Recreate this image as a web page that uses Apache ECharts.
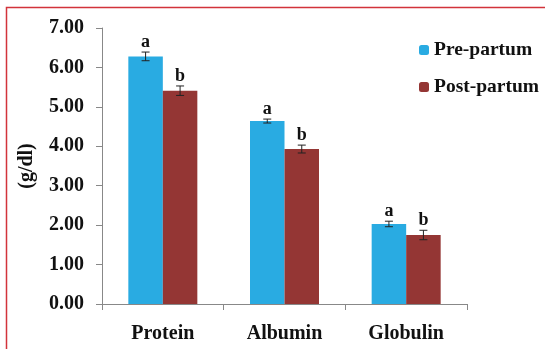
<!DOCTYPE html>
<html><head><meta charset="utf-8">
<script src="https://cdn.jsdelivr.net/npm/echarts@6/dist/echarts.min.js"></script>
<style>html,body{margin:0;padding:0;background:#fff}#c{width:545px;height:349px}</style>
</head><body><div id="c"></div>
<script>
const categories = ['Protein', 'Albumin', 'Globulin'];
const preValues = [6.28, 4.64, 2.03];
const postValues = [5.41, 3.93, 1.75];
const preErr = [0.11, 0.05, 0.07];
const postErr = [0.12, 0.10, 0.12];
const preLetters = ['a', 'a', 'a'];
const postLetters = ['b', 'b', 'b'];
const yTicks = [0, 1, 2, 3, 4, 5, 6, 7];

const FONT = 'Liberation Serif';
const BW = 34.5;
function errSeries(name, values, errs, letters, offset) {
  return {
    type: 'custom', name: name + '-err', silent: true, z: 5,
    data: values.map((v, i) => [i, v, errs[i], letters[i]]),
    renderItem: function (params, api) {
      const i = api.value(0), v = api.value(1), e = api.value(2);
      const c = api.coord([i, v]);
      const hi = api.coord([i, v + e]);
      const lo = api.coord([i, v - e]);
      const x = c[0] + offset;
      const st = { stroke: '#222', lineWidth: 1 };
      return {
        type: 'group', children: [
          { type: 'line', shape: { x1: x, y1: hi[1], x2: x, y2: lo[1] }, style: st },
          { type: 'line', shape: { x1: x - 4, y1: hi[1], x2: x + 4, y2: hi[1] }, style: st },
          { type: 'line', shape: { x1: x - 4, y1: lo[1], x2: x + 4, y2: lo[1] }, style: st },
          { type: 'text', x: x, y: hi[1] - 1, style: { text: letters[i], fill: '#111', font: 'bold 18px ' + FONT, textAlign: 'center', textVerticalAlign: 'bottom' } }
        ]
      };
    }
  };
}

const chart = echarts.init(document.getElementById('c'), null, { renderer: 'canvas' });
chart.setOption({
  animation: false,
  backgroundColor: '#fff',
  graphic: [{ type: 'rect', shape: { x: 6.5, y: 7.5, width: 600, height: 400 }, style: { fill: 'none', stroke: '#d2333b', lineWidth: 1.5 }, silent: true }],
  grid: { left: 102, top: 28, right: 78, bottom: 45 },
  legend: {
    orient: 'vertical', left: 414, top: 35, itemGap: 17, itemWidth: 10, itemHeight: 10,
    data: ['Pre-partum', 'Post-partum'],
    textStyle: { fontFamily: FONT, fontWeight: 'bold', fontSize: 19.5, color: '#111' }
  },
  xAxis: {
    type: 'category', data: categories,
    axisLine: { lineStyle: { color: '#888' } },
    axisTick: { show: true, length: 6, lineStyle: { color: '#888' } },
    axisLabel: { fontFamily: FONT, fontWeight: 'bold', fontSize: 20, color: '#111', margin: 20 }
  },
  yAxis: {
    type: 'value', min: 0, max: 7, interval: 1,
    name: '(g/dl)', nameLocation: 'middle', nameRotate: 90, nameGap: 65,
    nameTextStyle: { fontFamily: FONT, fontWeight: 'bold', fontSize: 20, color: '#111' },
    axisLine: { show: true, lineStyle: { color: '#888' } },
    axisTick: { show: true, length: 6, lineStyle: { color: '#888' } },
    splitLine: { show: false },
    axisLabel: { fontFamily: FONT, fontWeight: 'bold', fontSize: 20, color: '#111', margin: 18,
      formatter: v => yTicks.includes(v) ? v.toFixed(2) : '' }
  },
  series: [
    { name: 'Pre-partum', type: 'bar', data: preValues, barWidth: BW, barGap: '0%', itemStyle: { color: '#29abe2' } },
    { name: 'Post-partum', type: 'bar', data: postValues, barWidth: BW, barGap: '0%', itemStyle: { color: '#943634' } },
    errSeries('Pre-partum', preValues, preErr, preLetters, -BW / 2),
    errSeries('Post-partum', postValues, postErr, postLetters, BW / 2)
  ]
});
</script></body></html>
